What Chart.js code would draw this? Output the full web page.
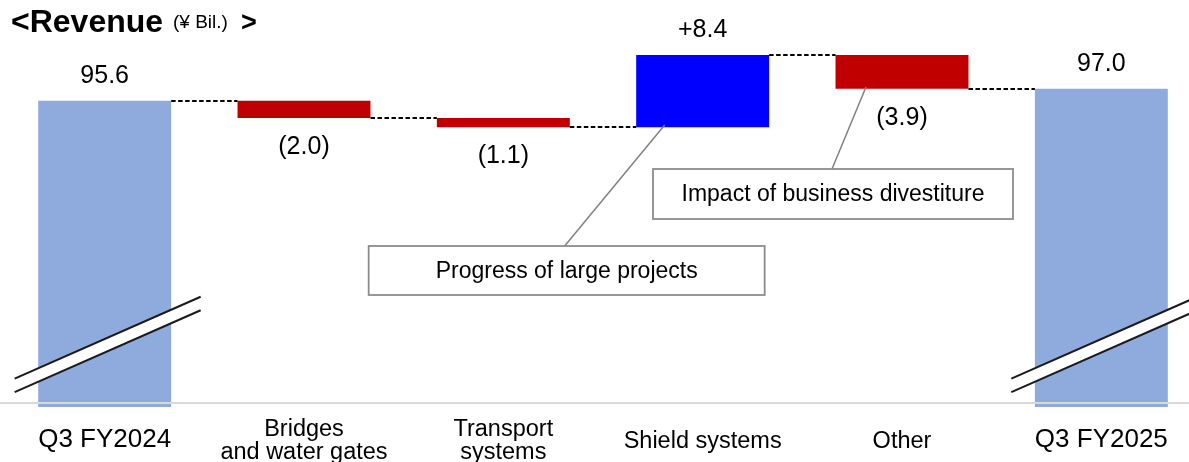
<!DOCTYPE html>
<html>
<head>
<meta charset="utf-8">
<script src="https://cdn.jsdelivr.net/npm/chart.js@4.4.1/dist/chart.umd.min.js"></script>
<style>
  html, body { margin: 0; padding: 0; background: #fff; overflow: hidden; }
  #wrap { position: relative; width: 1189px; height: 462px; overflow: hidden; }
  #chart { position: absolute; left: 0; top: 0; }
</style>
</head>
<body>
<div id="wrap"><canvas id="chart" width="1201" height="462"></canvas></div>
<script>
// data (¥ Bil.)
const categories = ['Q3 FY2024', ['Bridges', 'and water gates'], ['Transport', 'systems'], 'Shield systems', 'Other', 'Q3 FY2025'];
const values = [95.6, -2.0, -1.1, 8.4, -3.9, 97.0];
const kinds = ['total', 'delta', 'delta', 'delta', 'delta', 'total'];
const valueLabels = ['95.6', '(2.0)', '(1.1)', '+8.4', '(3.9)', '97.0'];
const axisMin = 60;
const axisMax = 107.3;

const callouts = [
  { bar: 3, text: 'Progress of large projects' },
  { bar: 4, text: 'Impact of business divestiture' }
];

const FONT = "'Liberation Sans', Arial, Helvetica, sans-serif";

// build floating ranges from running total
let running = 0;
const ranges = [];
const levels = [];
for (let i = 0; i < values.length; i++) {
  if (kinds[i] === 'total') {
    ranges.push([axisMin, values[i]]);
    running = values[i];
  } else {
    const next = Math.round((running + values[i]) * 10) / 10;
    ranges.push([Math.min(running, next), Math.max(running, next)]);
    running = next;
  }
  levels.push(running);
}

const colors = values.map((v, i) => {
  if (kinds[i] === 'total') return '#8faadc';
  return v < 0 ? '#c00000' : '#0000ff';
});

// callout geometry, offsets from the bar centre (px)
const calloutBoxes = [
  { dx: -136, top: 246, w: 396, h: 49, fromDx: -138, toDx: -38, toY: 125 },
  { dx: -69, top: 169, w: 360, h: 50, fromDx: -70, toDx: -36, toY: 87 }
];

const waterfallDecor = {
  id: 'waterfallDecor',
  afterDatasetsDraw(chart) {
    const ctx = chart.ctx;
    const meta = chart.getDatasetMeta(0);
    const y = chart.scales.y;
    const area = chart.chartArea;
    ctx.save();

    // dashed connectors between bars
    ctx.strokeStyle = '#000';
    ctx.lineWidth = 2;
    ctx.setLineDash([4.5, 2.5]);
    for (let i = 0; i < meta.data.length - 1; i++) {
      const a = meta.data[i], b = meta.data[i + 1];
      const py = Math.round(y.getPixelForValue(levels[i]));
      ctx.beginPath();
      ctx.moveTo(a.x + a.width / 2, py);
      ctx.lineTo(b.x - b.width / 2, py);
      ctx.stroke();
    }
    ctx.setLineDash([]);

    // gray base line
    ctx.strokeStyle = '#d9d9d9';
    ctx.lineWidth = 2;
    ctx.beginPath();
    ctx.moveTo(0, area.bottom - 4);
    ctx.lineTo(chart.width, area.bottom - 4);
    ctx.stroke();

    // axis break marks on the total bars
    const slope = 0.44, gap = 13.5;
    meta.data.forEach((el, i) => {
      if (kinds[i] !== 'total') return;
      const cx = el.x;
      const cy = area.bottom - 68;
      const x1 = cx - 90, x2 = cx + 96;
      const y1 = cy + slope * 90, y2 = cy - slope * 96;
      ctx.fillStyle = '#fff';
      ctx.beginPath();
      ctx.moveTo(x1, y1);
      ctx.lineTo(x2, y2);
      ctx.lineTo(x2, y2 + gap);
      ctx.lineTo(x1, y1 + gap);
      ctx.closePath();
      ctx.fill();
      ctx.strokeStyle = '#1a1a1a';
      ctx.lineWidth = 2;
      ctx.beginPath();
      ctx.moveTo(x1, y1); ctx.lineTo(x2, y2);
      ctx.moveTo(x1, y1 + gap); ctx.lineTo(x2, y2 + gap);
      ctx.stroke();
    });

    // value labels
    ctx.fillStyle = '#000';
    ctx.font = '25px ' + FONT;
    ctx.textAlign = 'center';
    ctx.textBaseline = 'middle';
    meta.data.forEach((el, i) => {
      const top = y.getPixelForValue(ranges[i][1]);
      const bottom = y.getPixelForValue(ranges[i][0]);
      if (kinds[i] === 'total' || values[i] > 0) {
        ctx.fillText(valueLabels[i], el.x, top - 24.5);
      } else {
        ctx.fillText(valueLabels[i], el.x, bottom + 29);
      }
    });

    // callouts
    callouts.forEach((c, k) => {
      const el = meta.data[c.bar];
      const g = calloutBoxes[k];
      ctx.strokeStyle = '#808080';
      ctx.lineWidth = 1.5;
      ctx.beginPath();
      ctx.moveTo(el.x + g.fromDx, g.top);
      ctx.lineTo(el.x + g.toDx, g.toY);
      ctx.stroke();
      const left = el.x + g.dx - g.w / 2;
      ctx.fillStyle = '#fff';
      ctx.fillRect(left, g.top, g.w, g.h);
      ctx.strokeStyle = '#8c8c8c';
      ctx.lineWidth = 1.8;
      ctx.strokeRect(left, g.top, g.w, g.h);
      ctx.fillStyle = '#000';
      ctx.font = '23px ' + FONT;
      ctx.fillText(c.text, el.x + g.dx, g.top + g.h / 2 + 1);
    });

    // title
    ctx.textAlign = 'left';
    ctx.textBaseline = 'alphabetic';
    ctx.font = 'bold 32px ' + FONT;
    ctx.fillText('<Revenue', 11, 32);
    ctx.font = '19px ' + FONT;
    ctx.fillText('(¥ Bil.)', 173, 28);
    ctx.font = 'bold 27px ' + FONT;
    ctx.fillText('>', 241, 31);

    ctx.restore();
  }
};

const ctx = document.getElementById('chart').getContext('2d');
const chart = new Chart(ctx, {
  type: 'bar',
  data: {
    labels: categories,
    datasets: [{
      data: ranges,
      backgroundColor: colors,
      borderWidth: 0,
      categoryPercentage: 1.0,
      barPercentage: 0.667
    }]
  },
  options: {
    responsive: false,
    animation: false,
    layout: { padding: { left: 5, right: 0, top: 0, bottom: 0 } },
    plugins: {
      legend: { display: false },
      tooltip: { enabled: false }
    },
    scales: {
      x: {
        grid: { display: false, drawTicks: false },
        border: { display: false },
        afterFit: (axis) => { axis.height = 55; },
        ticks: {
          color: '#000',
          padding: 23,
          crossAlign: 'center',
          maxRotation: 0,
          autoSkip: false,
          font: (c) => {
            const big = c.index === 0 || c.index === categories.length - 1;
            return { family: FONT, size: big ? 26 : 23.5, lineHeight: big ? 1.0 : 0.97 };
          }
        }
      },
      y: {
        display: false,
        min: axisMin,
        max: axisMax
      }
    }
  },
  plugins: [waterfallDecor]
});
</script>
</body>
</html>
